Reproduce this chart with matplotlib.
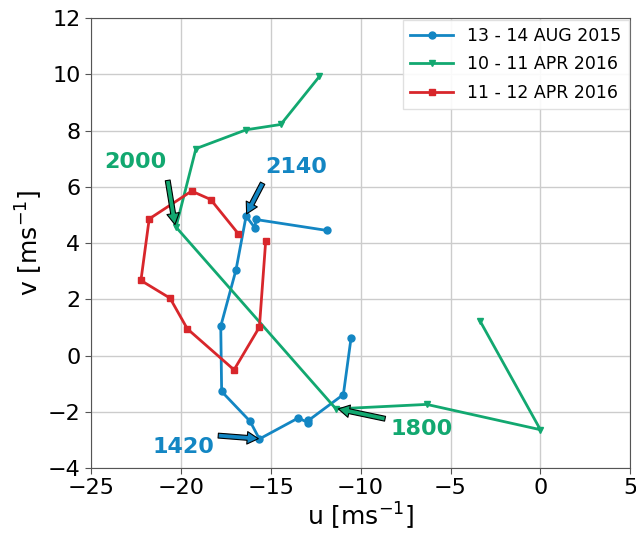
import matplotlib
matplotlib.use("Agg")
import matplotlib.pyplot as plt

# Hodograph tracks (u, v) in m/s
aug15_u = [-10.53, -10.96, -12.9, -12.9, -13.46, -15.63, -16.15, -17.73, -17.78, -16.93, -16.37, -15.87, -15.84, -11.88]
aug15_v = [0.63, -1.39, -2.31, -2.4, -2.22, -2.97, -2.34, -1.28, 1.04, 3.05, 4.96, 4.53, 4.84, 4.45]

apr10_u = [-3.35, 0.0, -6.32, -11.37, -20.27, -19.16, -16.37, -14.44, -12.29]
apr10_v = [1.22, -2.64, -1.74, -1.9, 4.57, 7.36, 8.03, 8.22, 9.93]

apr11_u = [-15.28, -15.63, -17.04, -19.64, -20.6, -22.22, -21.76, -19.4, -18.34, -16.8]
apr11_v = [4.07, 1.01, -0.51, 0.95, 2.04, 2.67, 4.86, 5.85, 5.55, 4.33]

labels = ["13 - 14 AUG 2015", "10 - 11 APR 2016", "11 - 12 APR 2016"]
colors = ["#1386c3", "#12a870", "#d8262b"]

# Time annotations: text, text position, arrow tail, arrow head, colour index
notes = [
    ("2000", (-22.55, 6.87), (-20.73, 6.23), (-20.33, 4.66), 1),
    ("2140", (-13.56, 6.69), (-15.45, 6.13), (-16.34, 5.04), 0),
    ("1420", (-19.88, -3.24), (-17.92, -2.85), (-15.69, -2.96), 0),
    ("1800", (-6.6, -2.63), (-8.64, -2.25), (-11.24, -1.90), 1),
]

fig = plt.figure(figsize=(6.36, 5.36), dpi=100)
ax = fig.add_axes([0.143, 0.127, 0.848, 0.839])

ax.plot(aug15_u, aug15_v, color=colors[0], marker="o", ms=5, lw=2, label=labels[0])
ax.plot(apr10_u, apr10_v, color=colors[1], marker="v", ms=5, lw=2, label=labels[1])
ax.plot(apr11_u, apr11_v, color=colors[2], marker="s", ms=5, lw=2, label=labels[2])

for txt, tpos, tail, head, ci in notes:
    ax.annotate("", xy=head, xytext=tail,
                arrowprops=dict(facecolor=colors[ci], edgecolor="black", lw=0.8,
                                width=3.5, headwidth=9, headlength=8, shrink=0))
    ax.text(tpos[0], tpos[1], txt, color=colors[ci], fontsize=16, fontweight="bold",
            ha="center", va="center")

ax.set_xlim(-25, 5)
ax.set_ylim(-4, 12)
ax.set_xticks(range(-25, 6, 5))
ax.set_yticks(range(-4, 13, 2))
ax.tick_params(labelsize=16, color="#555555", length=4)
ax.grid(True, color="#cccccc", lw=1)
ax.set_axisbelow(True)
for s in ax.spines.values():
    s.set_color("#555555")
ax.set_xlabel(r"u [ms$^{-1}$]", fontsize=18, labelpad=2)
ax.set_ylabel(r"v [ms$^{-1}$]", fontsize=18, labelpad=2)
ax.legend(loc="upper right", fontsize=12.5, handlelength=2.5, framealpha=0.9,
          edgecolor="#dddddd", fancybox=False, borderaxespad=0.1, labelspacing=0.6)

fig.savefig("out.png", dpi=100)
